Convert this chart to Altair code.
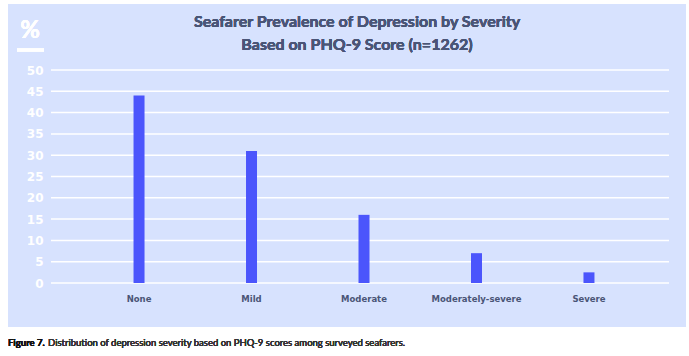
import altair as alt
import pandas as pd

categories = ["None", "Mild", "Moderate", "Moderately-severe", "Severe"]
values = [44, 31, 16, 7, 2.5]
y_ticks = [0, 5, 10, 15, 20, 25, 30, 35, 40, 45, 50]
title_line1 = "Seafarer Prevalence of Depression by Severity"
title_line2 = "Based on PHQ-9 Score (n=1262)"
caption_bold = "Figure 7."
caption_text = "Distribution of depression severity based on PHQ-9 scores among surveyed seafarers."

df = pd.DataFrame({"category": categories, "value": values})
grid_df = pd.DataFrame({"tick": y_ticks})

PANEL = "#d7e2fe"
DARK = "#4a5577"
FONT = "Lato"

W, H = 618, 213

y_axis = alt.Axis(
    title=None, values=y_ticks, domain=False, ticks=False, labelPadding=8,
    labelColor="white", labelFontSize=12, labelFontWeight="bold", labelFont="DejaVu Sans",
    labelOverlap=False, grid=False, zindex=1,
)
y_scale = alt.Scale(domain=[0, 50], nice=False)

panel = alt.Chart(df).mark_rect(color=PANEL).encode(
    x=alt.value(-43), x2=alt.value(635), y=alt.value(-66), y2=alt.value(257)
)

grid = alt.Chart(grid_df).mark_rule(color="white", strokeWidth=1.5).encode(
    y=alt.Y("tick:Q", scale=y_scale, axis=y_axis)
)

pct = alt.Chart(df).mark_text(
    text="%", color="white", fontSize=24, fontWeight="bold", font=FONT, align="center", baseline="middle"
).encode(x=alt.value(-21), y=alt.value(-39))

pct_bar = alt.Chart(df).mark_rule(color="white", strokeWidth=3).encode(
    x=alt.value(-34), x2=alt.value(-7), y=alt.value(-20)
)

t1 = alt.Chart(df).mark_text(
    text=title_line1, color=DARK, fontSize=16, fontWeight="bold", font=FONT, align="center", baseline="middle"
).encode(x=alt.value(306), y=alt.value(-48))

t2 = alt.Chart(df).mark_text(
    text=title_line2, color=DARK, fontSize=16, fontWeight="bold", font=FONT, align="center", baseline="middle"
).encode(x=alt.value(306), y=alt.value(-25))

bars = alt.Chart(df).mark_bar(color="#4b55fc", size=11).encode(
    x=alt.X(
        "category:N",
        sort=categories,
        scale=alt.Scale(paddingInner=0, paddingOuter=0.247, align=0.572),
        axis=alt.Axis(
            title=None, labelAngle=0, domain=False, ticks=False, labelPadding=11,
            labelColor=DARK, labelFontSize=8.5, labelFontWeight="bold", labelFont="DejaVu Sans",
            grid=False, zindex=1,
        ),
    ),
    y=alt.Y("value:Q", scale=y_scale, axis=y_axis),
)

cap1 = alt.Chart(df).mark_text(
    text=caption_bold, color="#111111", fontSize=9.5, fontWeight="bold", font=FONT, align="left", baseline="middle"
).encode(x=alt.value(-43), y=alt.value(273))

cap2 = alt.Chart(df).mark_text(
    text=caption_text, color="#333333", fontSize=9.5, font=FONT, align="left", baseline="middle"
).encode(x=alt.value(-3), y=alt.value(273))

chart = alt.layer(panel, grid, pct, pct_bar, t1, t2, bars, cap1, cap2).properties(
    width=W,
    height=H,
    autosize=alt.AutoSizeParams(type="none"),
    padding={"left": 51, "top": 70, "right": 20, "bottom": 73},
    background="white",
).configure_view(stroke=None, fill=None).configure_axis(labelOverlap=False)

chart.save("out.html", embed_options={"renderer": "svg", "actions": False})
